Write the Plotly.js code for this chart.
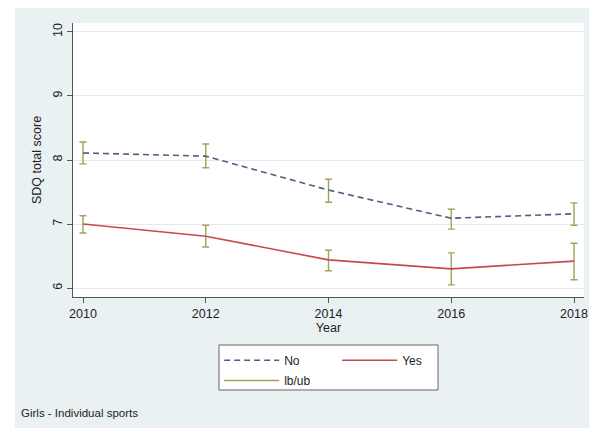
<!DOCTYPE html>
<html>
<head>
<meta charset="utf-8">
<script src="https://cdn.plot.ly/plotly-3.0.1.min.js"></script>
<style>
  html, body { margin: 0; padding: 0; background: #ffffff; width: 597px; height: 428px; overflow: hidden; }
  #chart { position: absolute; left: 15px; top: 8px; width: 574px; height: 420px; }
</style>
</head>
<body>
<div id="chart"></div>
<script>
// Data
var years = [2010, 2012, 2014, 2016, 2018];
var noMean = [8.11, 8.06, 7.53, 7.09, 7.16];
var noLb   = [7.94, 7.88, 7.34, 6.92, 6.98];
var noUb   = [8.28, 8.25, 7.70, 7.23, 7.33];
var yesMean = [7.00, 6.81, 6.44, 6.30, 6.42];
var yesLb   = [6.86, 6.64, 6.27, 6.05, 6.13];
var yesUb   = [7.13, 6.98, 6.59, 6.55, 6.70];
var yTicks = [6, 7, 8, 9, 10];

function plus(m, u) { return m.map(function (v, i) { return u[i] - v; }); }
function minus(m, l) { return m.map(function (v, i) { return v - l[i]; }); }

var capColor = '#a2a25a';
var font = 'Liberation Sans, Arial, sans-serif';

var traces = [
  {
    x: years, y: noMean, name: 'No', type: 'scatter', mode: 'lines', legend: 'legend',
    line: { color: '#4b5f80', width: 1.6, dash: '6px,4px' },
    error_y: { type: 'data', symmetric: false, array: plus(noMean, noUb), arrayminus: minus(noMean, noLb),
               color: capColor, thickness: 1.4, width: 3.5 }
  },
  {
    x: years, y: yesMean, name: 'Yes', type: 'scatter', mode: 'lines', legend: 'legend',
    line: { color: '#c8484e', width: 1.6 },
    error_y: { type: 'data', symmetric: false, array: plus(yesMean, yesUb), arrayminus: minus(yesMean, yesLb),
               color: capColor, thickness: 1.4, width: 3.5 }
  },
  {
    x: [null], y: [null], name: 'lb/ub', type: 'scatter', mode: 'lines', legend: 'legend2',
    line: { color: capColor, width: 1.4 }
  }
];

var legendCommon = {
  orientation: 'h', xanchor: 'left', yanchor: 'top',
  bgcolor: 'rgba(0,0,0,0)', borderwidth: 0,
  entrywidth: 48, entrywidthmode: 'pixels', itemwidth: 55,
  font: { family: font, size: 12, color: '#222222' },
  traceorder: 'normal'
};

var layout = {
  width: 574, height: 420,
  margin: { l: 58, r: 5, t: 15, b: 131, autoexpand: false },
  paper_bgcolor: '#eaf1f3',
  plot_bgcolor: '#ffffff',
  font: { family: font, color: '#222222', size: 12 },
  showlegend: true,
  legend: Object.assign({}, legendCommon, { x: 0.286, y: -0.178 }),
  legend2: Object.assign({}, legendCommon, { x: 0.286, y: -0.252 }),
  shapes: [
    { type: 'rect', xref: 'paper', yref: 'paper', x0: 0.2857, x1: 0.7143, y0: -0.3394, y1: -0.1752,
      fillcolor: '#ffffff', line: { color: '#666666', width: 1 }, layer: 'above' }
  ],
  xaxis: {
    range: [2009.837, 2018.163],
    tickvals: years, ticktext: years.map(String),
    showgrid: false, zeroline: false,
    showline: true, linecolor: '#555555', linewidth: 1,
    ticks: 'outside', ticklen: 5, tickcolor: '#555555',
    tickfont: { family: font, size: 12.5, color: '#222222' },
    title: { text: 'Year', font: { family: font, size: 12.5, color: '#222222' }, standoff: 0 }
  },
  yaxis: {
    range: [5.86, 10.14],
    tickvals: yTicks, ticktext: yTicks.map(String),
    tickangle: -90,
    showgrid: true, gridcolor: '#e4eaec', gridwidth: 1, zeroline: false,
    showline: true, linecolor: '#555555', linewidth: 1,
    ticks: 'outside', ticklen: 5, tickcolor: '#555555',
    tickfont: { family: font, size: 12.5, color: '#222222' },
    title: { text: 'SDQ total score', font: { family: font, size: 12.5, color: '#222222' }, standoff: 6 }
  },
  annotations: [
    { text: 'Girls - Individual sports', xref: 'paper', yref: 'paper', x: -0.106, y: -0.423,
      xanchor: 'left', yanchor: 'middle', showarrow: false,
      font: { family: font, size: 11.5, color: '#222222' } }
  ]
};

Plotly.newPlot('chart', traces, layout, { displayModeBar: false, staticPlot: true });
</script>
</body>
</html>
